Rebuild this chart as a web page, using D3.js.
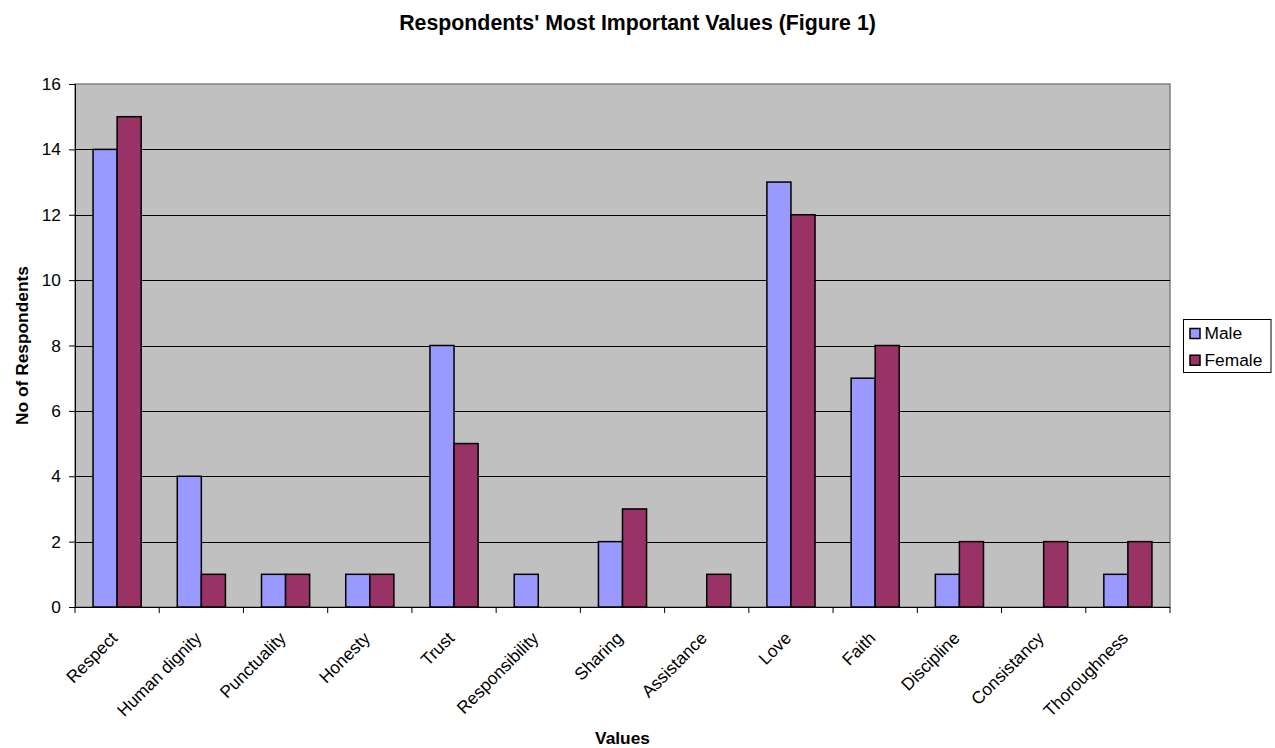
<!DOCTYPE html>
<html>
<head>
<meta charset="utf-8">
<script src="https://cdn.jsdelivr.net/npm/d3@7"></script>
<style>
  body { margin: 0; background: #fff; }
  text { font-family: "Liberation Sans", Arial, sans-serif; }
</style>
</head>
<body>
<div id="chart"></div>
<script>
// chart data
const categories = ["Respect", "Human dignity", "Punctuality", "Honesty", "Trust", "Responsibility",
    "Sharing", "Assistance", "Love", "Faith", "Discipline", "Consistancy", "Thoroughness"];
const maleValues = [14, 4, 1, 1, 8, 1, 2, 0, 13, 7, 1, 0, 1];
const femaleValues = [15, 1, 1, 1, 5, 0, 3, 1, 12, 8, 2, 2, 2];
const seriesNames = ["Male", "Female"];
const seriesColors = ["#9999FF", "#993366"];
const yTicks = [0, 2, 4, 6, 8, 10, 12, 14, 16];

const W = 1275, H = 748;
const plot = {left: 75, right: 1170, top: 84, bottom: 607};
const fs = 17.33; // 13pt

let svg = d3.select("#chart")
    .append("svg")
    .attr("width", W)
    .attr("height", H);

let x = d3.scaleBand()
    .domain(categories)
    .range([plot.left, plot.right]);

// gap width 150% like the original spreadsheet chart
let inner = d3.scaleBand()
    .domain(seriesNames)
    .range([0, x.bandwidth()])
    .paddingInner(0)
    .paddingOuter(0.75);

let y = d3.scaleLinear()
    .domain([0, 16])
    .range([plot.bottom, plot.top]);

// plot background
svg.append("rect")
    .attr("x", plot.left)
    .attr("y", plot.top)
    .attr("width", plot.right - plot.left)
    .attr("height", plot.bottom - plot.top)
    .attr("fill", "#C0C0C0")
    .attr("stroke", "#808080")
    .attr("stroke-width", 1.5);

// gridlines
svg.append("g")
    .selectAll("line")
    .data(yTicks.filter(t => t > 0 && t < 16))
    .join("line")
    .attr("x1", plot.left)
    .attr("x2", plot.right)
    .attr("y1", d => Math.round(y(d)) + 0.5)
    .attr("y2", d => Math.round(y(d)) + 0.5)
    .attr("stroke", "#000")
    .attr("stroke-width", 1);

// bars
let rows = categories.map((c, i) => ({cat: c, vals: [maleValues[i], femaleValues[i]]}));

let groups = svg.append("g")
    .selectAll("g")
    .data(rows)
    .join("g")
    .attr("transform", d => "translate(" + x(d.cat) + ",0)");

groups.selectAll("rect")
    .data(d => d.vals.map((v, j) => ({key: seriesNames[j], v: v, color: seriesColors[j]})).filter(e => e.v > 0))
    .join("rect")
    .attr("x", d => inner(d.key))
    .attr("y", d => y(d.v))
    .attr("width", inner.bandwidth())
    .attr("height", d => y(0) - y(d.v))
    .attr("fill", d => d.color)
    .attr("stroke", "#000")
    .attr("stroke-width", 1.5);

// y axis
let yAxis = svg.append("g")
    .attr("transform", "translate(" + plot.left + ",0)")
    .call(d3.axisLeft(y).tickValues(yTicks).tickSize(6).tickPadding(8).tickFormat(d3.format("d")));
yAxis.select(".domain").attr("stroke", "#000");
yAxis.selectAll("text").attr("font-size", fs).attr("fill", "#000");

// x axis with ticks at category boundaries
svg.append("line")
    .attr("x1", plot.left)
    .attr("x2", plot.right)
    .attr("y1", plot.bottom + 0.5)
    .attr("y2", plot.bottom + 0.5)
    .attr("stroke", "#000");

svg.append("g")
    .selectAll("line")
    .data(categories.concat(["end"]))
    .join("line")
    .attr("x1", (d, i) => plot.left + i * x.step())
    .attr("x2", (d, i) => plot.left + i * x.step())
    .attr("y1", plot.bottom)
    .attr("y2", plot.bottom + 6)
    .attr("stroke", "#000");

svg.append("g")
    .selectAll("text")
    .data(categories)
    .join("text")
    .attr("transform", d => "translate(" + (x(d) + x.bandwidth() / 2 - 3) + "," + (plot.bottom + 28) + ") rotate(-45)")
    .attr("text-anchor", "end")
    .attr("dy", "0.35em")
    .attr("font-size", fs)
    .text(d => d);

// title and axis labels
svg.append("text")
    .attr("x", W / 2)
    .attr("y", 30)
    .attr("text-anchor", "middle")
    .attr("font-size", 21.33)
    .attr("font-weight", "bold")
    .text("Respondents' Most Important Values (Figure 1)");

svg.append("text")
    .attr("transform", "translate(27.5," + (plot.top + plot.bottom) / 2 + ") rotate(-90)")
    .attr("text-anchor", "middle")
    .attr("font-size", fs)
    .attr("font-weight", "bold")
    .text("No of Respondents");

svg.append("text")
    .attr("x", (plot.left + plot.right) / 2)
    .attr("y", 744)
    .attr("text-anchor", "middle")
    .attr("font-size", fs)
    .attr("font-weight", "bold")
    .text("Values");

// legend
let legend = svg.append("g").attr("transform", "translate(1183,319)");
legend.append("rect")
    .attr("x", 0.5)
    .attr("y", 0.5)
    .attr("width", 87.5)
    .attr("height", 53)
    .attr("fill", "#fff")
    .attr("stroke", "#000");

let items = legend.selectAll("g.item")
    .data(seriesNames)
    .join("g")
    .attr("class", "item")
    .attr("transform", (d, i) => "translate(0," + (20 + i * 26.7) + ")");

items.append("rect")
    .attr("x", 7)
    .attr("y", -10.5)
    .attr("width", 10)
    .attr("height", 10)
    .attr("fill", (d, i) => seriesColors[i])
    .attr("stroke", "#000")
    .attr("stroke-width", 1.5);

items.append("text")
    .attr("x", 21.5)
    .attr("font-size", fs)
    .text(d => d);
</script>
</body>
</html>
